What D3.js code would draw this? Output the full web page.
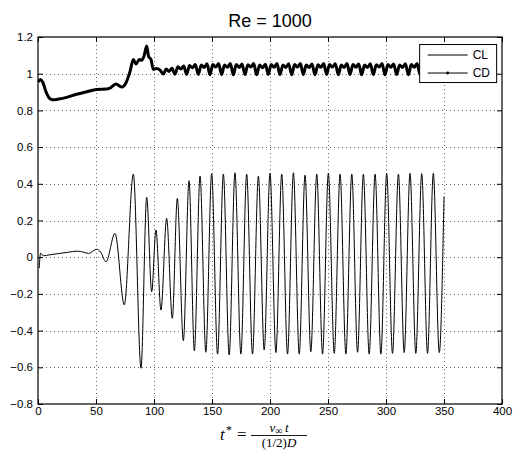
<!DOCTYPE html>
<html lang="en">
<head>
    <meta charset="UTF-8">
    <title>Re = 1000</title>
    <script src="https://d3js.org/d3.v7.min.js"></script>
    <style>
        body, html {
            margin: 0;
            background-color: #fff;
            font-family: 'Liberation Sans', Arial, sans-serif;
        }
        svg { display: block; }
    </style>
</head>
<body>
<svg id="chart"></svg>

<script>
    // ticks
    const xTicks = [0, 50, 100, 150, 200, 250, 300, 350, 400];
    const yTicks = [-0.8, -0.6, -0.4, -0.2, 0, 0.2, 0.4, 0.6, 0.8, 1, 1.2];
    const yTickLabels = ["\u22120.8", "\u22120.6", "\u22120.4", "\u22120.2", "0", "0.2", "0.4", "0.6", "0.8", "1", "1.2"];

    const seriesNames = ["CL", "CD"];

    // lift coefficient, [t*, CL] read at the turning points
    const clSamples = [
        [1.0, -0.06], [2.3, 0.022], [4.5, 0.008], [10, 0.013], [18, 0.02], [26, 0.027], [34, 0.033],
        [39, 0.028], [43.5, 0.02], [50.5, 0.043], [54, 0.028], [58.6, -0.025], [66.4, 0.13],
        [74.4, -0.26], [82.2, 0.453], [88.8, -0.605], [93.7, 0.326], [98.0, -0.188], [101.7, 0.148],
        [106.0, -0.288], [110.9, 0.212], [115.8, -0.333], [120.1, 0.321], [125.3, -0.455],
        [130.2, 0.417], [134.8, -0.51], [139.7, 0.442], [144.7, -0.518], [149.7, 0.455],
        [154.8, -0.528], [159.8, 0.453], [164.8, -0.533], [169.8, 0.46], [174.9, -0.528],
        [179.9, 0.453], [184.9, -0.528], [190.0, 0.442], [195.0, -0.506], [200.0, 0.457],
        [205.1, -0.52], [210.1, 0.453], [215.1, -0.528], [220.2, 0.46], [225.2, -0.528],
        [230.2, 0.447], [235.2, -0.515], [240.3, 0.453], [245.3, -0.528], [250.3, 0.457],
        [255.4, -0.524], [260.4, 0.453], [265.4, -0.528], [270.5, 0.453], [275.5, -0.518],
        [280.5, 0.453], [285.5, -0.528], [290.6, 0.453], [295.6, -0.528], [300.6, 0.457],
        [305.6, -0.524], [310.7, 0.453], [315.7, -0.52], [320.7, 0.457], [325.7, -0.524],
        [330.8, 0.455], [335.8, -0.524], [340.8, 0.457], [345.9, -0.52], [350.0, 0.33]
    ];

    // drag coefficient, [t*, CD]
    const cdSamples = [
        [0.3, 0.955], [2.3, 0.969], [4.2, 0.952], [7, 0.9], [10.3, 0.864], [13, 0.858], [18, 0.862],
        [24.7, 0.871], [33.3, 0.888], [42, 0.902], [50.6, 0.914], [59.2, 0.916], [62, 0.921],
        [67.2, 0.944], [72.1, 0.928], [75.9, 0.951], [79.3, 1.011], [82.2, 1.078], [84.5, 1.053],
        [87.4, 1.078], [89.4, 1.073], [91.4, 1.096], [93.7, 1.151], [95.4, 1.093], [97.4, 1.078],
        [99.4, 1.024], [102.3, 1.029], [105.2, 1.02], [108.0, 0.998],
        [110.5, 1.025], [113.0, 1.012], [115.5, 1.03],
        [118.1, 0.997], [120.6, 1.038], [123.1, 1.025], [125.6, 1.042],
        [128.1, 0.996], [130.6, 1.045], [133.1, 1.032], [135.6, 1.05],
        [138.2, 0.995], [140.7, 1.048], [143.2, 1.034], [145.7, 1.054],
        [148.2, 0.994], [150.7, 1.05], [153.2, 1.036], [155.7, 1.056],
        [158.3, 0.995], [160.8, 1.048], [163.3, 1.035], [165.8, 1.055],
        [168.4, 0.994], [170.9, 1.05], [173.4, 1.034], [175.9, 1.053],
        [178.4, 0.995], [180.9, 1.049], [183.4, 1.036], [185.9, 1.056],
        [188.5, 0.994], [191.0, 1.047], [193.5, 1.033], [196.0, 1.052],
        [198.5, 0.996], [201.0, 1.05], [203.5, 1.035], [206.0, 1.055],
        [208.6, 0.995], [211.1, 1.048], [213.6, 1.034], [216.1, 1.054],
        [218.7, 0.994], [221.2, 1.05], [223.7, 1.036], [226.2, 1.056],
        [228.7, 0.995], [231.2, 1.048], [233.7, 1.034], [236.2, 1.053],
        [238.8, 0.994], [241.3, 1.049], [243.8, 1.035], [246.3, 1.055],
        [248.8, 0.995], [251.3, 1.05], [253.8, 1.036], [256.3, 1.054],
        [258.9, 0.994], [261.4, 1.048], [263.9, 1.034], [266.4, 1.055],
        [269.0, 0.995], [271.5, 1.05], [274.0, 1.035], [276.5, 1.053],
        [279.0, 0.994], [281.5, 1.047], [284.0, 1.034], [286.5, 1.054],
        [289.1, 0.995], [291.6, 1.049], [294.1, 1.036], [296.6, 1.055],
        [299.1, 0.994], [301.6, 1.05], [304.1, 1.035], [306.6, 1.053],
        [309.2, 0.995], [311.7, 1.048], [314.2, 1.034], [316.7, 1.054],
        [319.3, 0.994], [321.8, 1.05], [324.3, 1.035], [326.8, 1.055],
        [329.3, 0.995], [331.8, 1.049], [334.3, 1.035], [336.8, 1.054],
        [339.4, 0.994], [341.9, 1.05], [344.4, 1.035], [346.9, 1.053],
        [349.4, 0.995], [350.0, 1.0]
    ];

    const margin = { top: 37, right: 13, bottom: 49, left: 38 },
        width = 515 - margin.left - margin.right,
        height = 453 - margin.top - margin.bottom;

    const root = d3.select("#chart")
        .attr("width", 515)
        .attr("height", 453);

    const svg = root.append("g")
        .attr("transform", `translate(${margin.left},${margin.top})`);

    const x = d3.scaleLinear().domain([0, 400]).range([0, width]);
    const y = d3.scaleLinear().domain([-0.8, 1.2]).range([height, 0]);

    // dotted grid
    const grid = svg.append("g")
        .attr("stroke", "#666")
        .attr("stroke-width", 1)
        .attr("stroke-dasharray", "1,3");
    grid.selectAll(".gx").data(xTicks.slice(1, -1)).enter().append("line")
        .attr("x1", d => Math.round(x(d)) + 0.5).attr("x2", d => Math.round(x(d)) + 0.5)
        .attr("y1", 0).attr("y2", height);
    grid.selectAll(".gy").data(yTicks.slice(1, -1)).enter().append("line")
        .attr("y1", d => Math.round(y(d)) + 0.5).attr("y2", d => Math.round(y(d)) + 0.5)
        .attr("x1", 0).attr("x2", width);

    // curves
    const line = d3.line()
        .x(d => x(d[0]))
        .y(d => y(d[1]))
        .curve(d3.curveMonotoneX);

    svg.append("path")
        .datum(clSamples)
        .attr("fill", "none")
        .attr("stroke", "#000")
        .attr("stroke-width", 1)
        .attr("d", line);

    svg.append("path")
        .datum(cdSamples)
        .attr("fill", "none")
        .attr("stroke", "#000")
        .attr("stroke-width", 3)
        .attr("stroke-linejoin", "round")
        .attr("d", line);

    // axes, MATLAB style ticks pointing inwards on all sides
    const fontSize = "11.5px";
    svg.append("g")
        .attr("transform", `translate(0,${height})`)
        .call(d3.axisBottom(x).tickValues(xTicks).tickSize(-5).tickPadding(3).tickFormat(d3.format("d")));
    svg.append("g")
        .call(d3.axisTop(x).tickValues(xTicks).tickSize(-5).tickFormat(""));
    svg.append("g")
        .call(d3.axisLeft(y).tickValues(yTicks).tickSize(-5).tickPadding(5)
            .tickFormat((d, i) => yTickLabels[i]));
    svg.append("g")
        .attr("transform", `translate(${width},0)`)
        .call(d3.axisRight(y).tickValues(yTicks).tickSize(-5).tickFormat(""));

    svg.selectAll(".domain").remove();
    svg.selectAll(".tick line").attr("stroke", "#000");
    svg.selectAll(".tick text")
        .attr("fill", "#000")
        .style("font-family", "'Liberation Sans', Arial, sans-serif")
        .style("font-size", fontSize);

    svg.append("rect")
        .attr("x", 0).attr("y", 0)
        .attr("width", width).attr("height", height)
        .attr("fill", "none")
        .attr("stroke", "#000")
        .attr("stroke-width", 1.2);

    // legend
    const legend = svg.append("g")
        .attr("transform", `translate(${x(329) },${y(1.159)})`);
    legend.append("rect")
        .attr("width", 77).attr("height", 38)
        .attr("fill", "#fff")
        .attr("stroke", "#000")
        .attr("stroke-width", 1);
    seriesNames.forEach((name, i) => {
        const ly = 10.5 + i * 18;
        legend.append("line")
            .attr("x1", 8).attr("x2", 48)
            .attr("y1", ly).attr("y2", ly)
            .attr("stroke", "#000").attr("stroke-width", 1);
        if (name === "CD") {
            legend.append("circle")
                .attr("cx", 28).attr("cy", ly).attr("r", 1.4).attr("fill", "#000");
        }
        legend.append("text")
            .attr("x", 53).attr("y", ly + 4.3)
            .style("font-size", "12px")
            .text(name);
    });

    // title
    root.append("text")
        .attr("x", margin.left + width / 2)
        .attr("y", 27)
        .attr("text-anchor", "middle")
        .style("font-size", "18px")
        .text("Re = 1000");

    // x label: t* = v_inf t / ((1/2) D)
    const lab = root.append("g")
        .style("font-family", "'Liberation Serif', 'DejaVu Serif', serif");
    lab.append("text")
        .attr("x", 220).attr("y", 440)
        .style("font-size", "17px").style("font-style", "italic")
        .text("t");
    lab.append("text")
        .attr("x", 226).attr("y", 434)
        .style("font-size", "12px")
        .text("*");
    lab.append("text")
        .attr("x", 237).attr("y", 440)
        .style("font-size", "17px")
        .text("=");
    lab.append("line")
        .attr("x1", 251).attr("x2", 307)
        .attr("y1", 435.5).attr("y2", 435.5)
        .attr("stroke", "#000").attr("stroke-width", 0.9);
    const num = lab.append("text")
        .attr("x", 279).attr("y", 432)
        .attr("text-anchor", "middle")
        .style("font-size", "13px");
    num.append("tspan").style("font-style", "italic").text("v");
    num.append("tspan").attr("dy", 2).style("font-size", "10px").text("\u221E");
    num.append("tspan").attr("dy", -2).style("font-style", "italic").text("\u2009t");
    const den = lab.append("text")
        .attr("x", 279).attr("y", 447)
        .attr("text-anchor", "middle")
        .style("font-size", "13px");
    den.append("tspan").text("(1/2)");
    den.append("tspan").style("font-style", "italic").text("D");
</script>
</body>
</html>
